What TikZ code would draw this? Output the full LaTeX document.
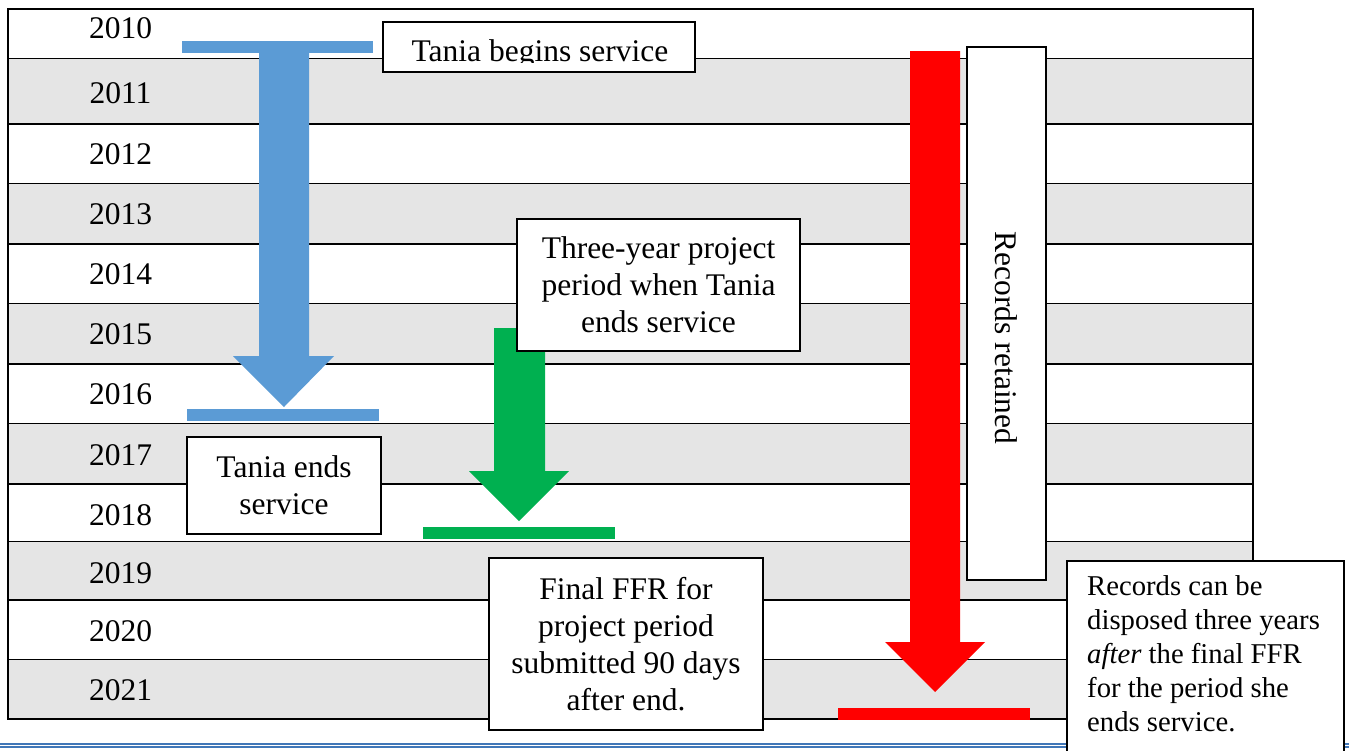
\documentclass[tikz,border=0pt]{standalone}
\usepackage{fontspec}
\setmainfont{Liberation Serif}
\usetikzlibrary{positioning}
\usepackage{xcolor}
\definecolor{rowgray}{HTML}{E5E5E5}
\definecolor{tealblue}{HTML}{5B9BD5}
\definecolor{ffrgreen}{HTML}{00B050}
\definecolor{keepred}{HTML}{FF0000}
\definecolor{ruleblue}{HTML}{4177B8}

\begin{document}
\begin{tikzpicture}[x=1pt, y=-1pt,
    yearlbl/.style={font=\fontsize{31.5}{37}\selectfont, inner sep=0pt},
    notebox/.style={draw=black, line width=1.6pt, fill=white, inner sep=0pt, align=center, font=\fontsize{31.5}{37}\selectfont},
    gridline/.style={line width=2.2pt}]

    \useasboundingbox (0,0) rectangle (1349,750);

    %rows
    \foreach \yr/\ya/\yb/\ly in {2010/9/59/28, 2011/59/124/93, 2012/124/184/154, 2013/184/244/214, 2014/244/304/274, 2015/304/364/334, 2016/364/424/394, 2017/424/484/455, 2018/484/542/515, 2019/542/600/573, 2020/600/660/631, 2021/660/719/690}
    {
        \pgfmathparse{int(mod(\yr,2))}
        \ifnum\pgfmathresult=1 \fill[rowgray] (8,\ya) rectangle (1253,\yb); \fi
        \draw[gridline] (8,\yb) -- (1253,\yb);
        \node[yearlbl] (y\yr) at (120.5,\ly) {\yr};
    }
    \draw[gridline] (8,9) rectangle (1253,719);

    %page rule
    \draw[ruleblue, line width=1.8pt] (0,743.6) -- (1349,743.6);
    \draw[ruleblue, line width=1.6pt] (0,747.2) -- (1349,747.2);

    %blue arrow
    \fill[tealblue] (182,41) rectangle (373,53);
    \fill[tealblue] (259,53) -- (309,53) -- (309,356) -- (334,356) -- (284,407) -- (233,356) -- (259,356) -- cycle;
    \fill[tealblue] (187,409) rectangle (379,421);

    %green arrow
    \fill[ffrgreen] (494,328) -- (545,328) -- (545,471) -- (569,471) -- (519,521) -- (469,471) -- (494,471) -- cycle;
    \fill[ffrgreen] (423,527) rectangle (615,539);

    %red arrow
    \fill[keepred] (910,51) -- (960,51) -- (960,642) -- (985,642) -- (935,692) -- (885,642) -- (910,642) -- cycle;
    \fill[keepred] (838,708) rectangle (1030,720);

    %boxes
    \node[notebox, minimum width=312, minimum height=50] (beginbox) at (539,47) {};
    \begin{scope}
        \clip (384,23) rectangle (694,62);
        \node[yearlbl, anchor=base] (begintxt) at (540,61) {Tania begins service};
    \end{scope}

    \node[notebox, minimum width=283, minimum height=132] (period) at (658.5,285) {Three-year project\\period when Tania\\ends service};
    \node[notebox, minimum width=194, minimum height=97] (endbox) at (284,485.5) {Tania ends\\service};
    \node[notebox, minimum width=274, minimum height=172] (ffr) at (626,644) {Final FFR for\\project period\\submitted 90 days\\after end.};

    \node[notebox, minimum width=79, minimum height=533] (keptbox) at (1006.5,313.5) {};
    \node[yearlbl, rotate=-90] (kepttxt) at (1006,338) {Records retained};

    \node[notebox, anchor=north west, minimum width=277, minimum height=220] (disposebox) at (1066,560) {};
    \node[anchor=north west, inner sep=0pt, align=left, font=\fontsize{28.7}{34}\selectfont] (disposetxt) at (1087,575.5) {Records can be\\disposed three years\\\textit{after} the final FFR\\for the period she\\ends service.};

\end{tikzpicture}
\end{document}
